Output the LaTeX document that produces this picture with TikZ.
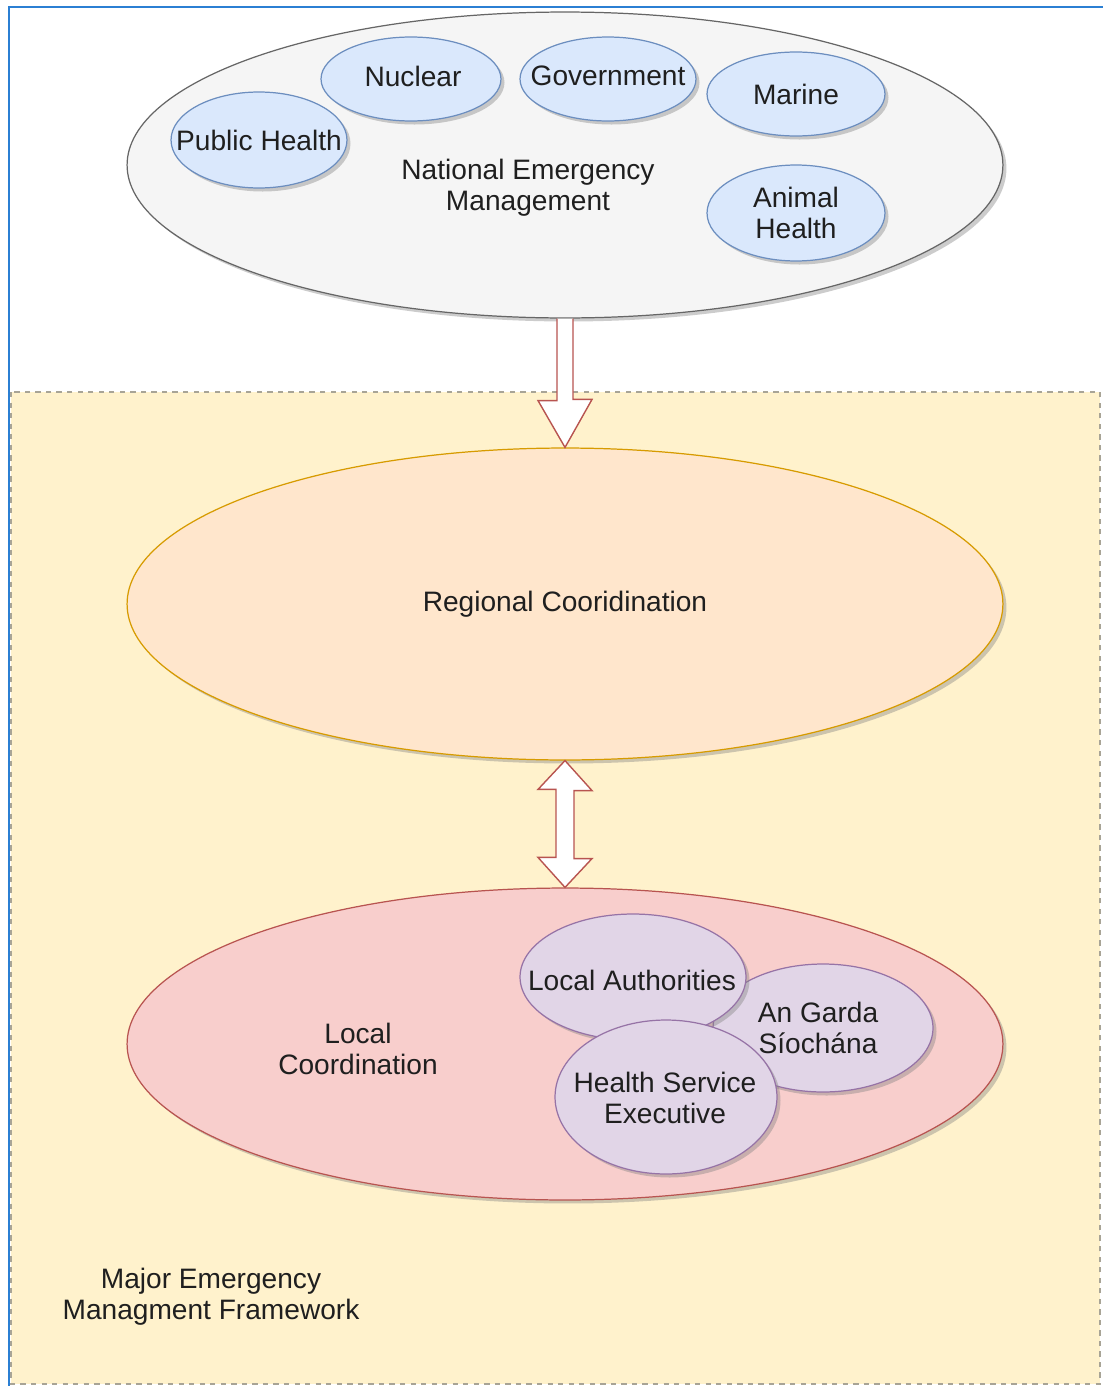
\documentclass[tikz,border=0pt]{standalone}
\usepackage{fontspec}
\setmainfont{Liberation Sans}
\usetikzlibrary{shapes.geometric,shadows,calc}

\definecolor{natfill}{HTML}{F5F5F5}
\definecolor{natdraw}{HTML}{666666}
\definecolor{bluefill}{HTML}{DAE8FC}
\definecolor{bluedraw}{HTML}{6C8EBF}
\definecolor{regfill}{HTML}{FFE6CC}
\definecolor{regdraw}{HTML}{D79B00}
\definecolor{locfill}{HTML}{F8CECC}
\definecolor{locdraw}{HTML}{B85450}
\definecolor{purplefill}{HTML}{E1D5E7}
\definecolor{purpledraw}{HTML}{9673A6}
\definecolor{areafill}{HTML}{FFF2CC}
\definecolor{areadraw}{HTML}{A8A496}
\definecolor{framecol}{HTML}{2B7FD3}

\begin{document}
\begin{tikzpicture}[x=0.02cm,y=-0.02cm,
    every node/.style={font=\fontsize{16}{17.6}\selectfont,text=black!88,align=center},
    shade/.style={drop shadow={shadow xshift=2pt,shadow yshift=-2pt,opacity=0.4}},
    level/.style={ellipse,inner sep=0pt,line width=0.7pt,minimum width=17.52cm,minimum height=6.24cm,shade},
    agency/.style={ellipse,inner sep=0pt,line width=0.7pt,fill=bluefill,draw=bluedraw,shade},
    service/.style={ellipse,inner sep=0pt,line width=0.7pt,fill=purplefill,draw=purpledraw,shade},
    blockarrow/.style={draw=locdraw,fill=white,line width=0.8pt,line join=miter}]
    \useasboundingbox (0,0) rectangle (1103,1386);
    \fill[white] (0,0) rectangle (1103,1386);
    \draw[areadraw, fill=areafill, dashed, line width=0.7pt] (11,392) rectangle (1100,1384);
    \draw[framecol, line width=1.6pt] (9,1386) -- (9,7) -- (1103,7);

    \node[level, fill=natfill, draw=natdraw, minimum height=6.12cm] (nat) at (565,165) {};
    \node (natlabel) at (528,188) {National Emergency\\Management};
    \node[agency, minimum width=3.52cm, minimum height=1.92cm] (ph) at (259,140) {};
    \node[agency, minimum width=3.6cm, minimum height=1.68cm] (nuc) at (411,79) {};
    \node[agency, minimum width=3.52cm, minimum height=1.68cm] (gov) at (608,79) {};
    \node[agency, minimum width=3.56cm, minimum height=1.68cm] (mar) at (796,94) {};
    \node[agency, minimum width=3.56cm, minimum height=1.92cm] (ah) at (796,213) {};
    \node (phtext) at (ph) {Public Health};
    \node (nuctext) at (413,76) {Nuclear};
    \node (govtext) at (608,76) {Government};
    \node (martext) at (mar) {Marine};
    \node (ahtext) at (ah) {Animal\\Health};

    \node[level, fill=regfill, draw=regdraw] (reg) at (565,604) {Regional Cooridination};
    \draw[blockarrow] ($(nat.south)+(-8,0)$) -- ++(0,82) -- ++(-19,0) -- (reg.north)
      -- ++(27,-48) -- ++(-19,0) -- ($(nat.south)+(8,0)$);

    \node[level, fill=locfill, draw=locdraw] (loc) at (565,1044) {};
    \node (loclabel) at (358,1049) {Local\\Coordination};
    \draw[blockarrow] (reg.south) -- ++(27,30) -- ++(-18,0) -- ++(0,68) -- ++(18,0) -- (loc.north)
      -- ++(-27,-30) -- ++(18,0) -- ++(0,-68) -- ++(-18,0) -- cycle;

    \node[service, minimum width=4.4cm, minimum height=2.56cm] (garda) at (823,1028) {};
    \node[service, minimum width=4.52cm, minimum height=2.52cm] (la) at (633,977) {};
    \node[service, minimum width=4.44cm, minimum height=3.08cm] (hse) at (666,1097) {};
    \node (gardatext) at (818,1028) {An Garda\\Síochána};
    \node (latext) at (632,980) {Local Authorities};
    \node (hsetext) at (665,1098) {Health Service\\Executive};

    \node (framework) at (211,1297) {Major Emergency\\Managment Framework};
  \end{tikzpicture}
\end{document}
